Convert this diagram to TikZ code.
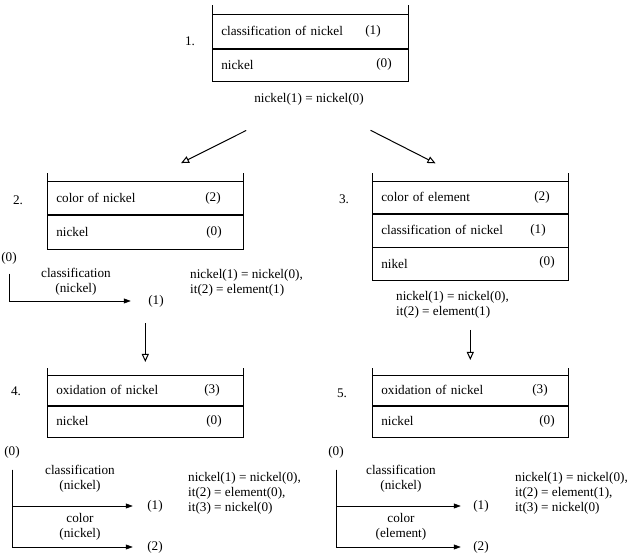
\documentclass[tikz,border=0pt]{standalone}
\usepackage{fontspec}
\setmainfont{Liberation Serif}
\usetikzlibrary{arrows.meta, positioning}

\tikzset{
  slot/.style={draw, line width=0.6pt, text width=178pt, inner xsep=9pt, inner ysep=0pt, minimum height=33pt, align=left},
  num/.style={inner sep=1pt},
  rel/.style={align=left, inner sep=1pt, anchor=west},
  brlabel/.style={align=center, inner sep=1pt},
  flow/.style={-{Triangle[open, length=8pt, width=7pt]}, line width=1pt},
  branch/.style={-{Triangle[length=7pt, width=5pt]}, line width=0.6pt},
}

\begin{document}
\begin{tikzpicture}[x=1pt, y=-1pt, font=\fontsize{13.2}{15}\selectfont]
  \useasboundingbox (0,0) rectangle (633,553);

  % frame 1
  \node[slot, anchor=north west, minimum height=34pt] (b1cls) at (212,14) {classification of nickel};
  \node[slot, below=0pt of b1cls, minimum height=32pt] (b1ni) {nickel};
  \draw[line width=0.6pt] (b1cls.north west) -- ++(0,-9) (b1cls.north east) -- ++(0,-9);
  \node[num] (b1n1) at (373,31) {(1)};
  \node[num] (b1n0) at (384,64) {(0)};
  \node (st1) at (190,41) {1.};
  \node (rel1) at (309,99) {nickel(1) = nickel(0)};

  % frame 2
  \node[slot, anchor=north west] (b2col) at (47,181) {color of nickel};
  \node[slot, below=0pt of b2col, minimum height=34pt] (b2ni) {nickel};
  \draw[line width=0.6pt] (b2col.north west) -- ++(0,-8) (b2col.north east) -- ++(0,-8);
  \node[num] (b2n2) at (213,198) {(2)};
  \node[num] (b2n0) at (214,232) {(0)};
  \node (st2) at (18,200) {2.};

  % frame 3
  \node[slot, anchor=north west, minimum height=32pt] (b3col) at (372,181) {color of element};
  \node[slot, below=0pt of b3col] (b3cls) {classification of nickel};
  \node[slot, below=0pt of b3cls] (b3ni) {nikel};
  \draw[line width=0.6pt] (b3col.north west) -- ++(0,-8) (b3col.north east) -- ++(0,-8);
  \node[num] (b3n2) at (542,197) {(2)};
  \node[num] (b3n1) at (538,230) {(1)};
  \node[num] (b3n0) at (547,262) {(0)};
  \node (st3) at (344,199) {3.};

  % frame 4
  \node[slot, anchor=north west, minimum height=30pt] (b4ox) at (47,375) {oxidation of nickel};
  \node[slot, below=0pt of b4ox, minimum height=31pt] (b4ni) {nickel};
  \draw[line width=0.6pt] (b4ox.north west) -- ++(0,-7) (b4ox.north east) -- ++(0,-7);
  \node[num] (b4n3) at (212,390) {(3)};
  \node[num] (b4n0) at (214,421) {(0)};
  \node (st4) at (16,391) {4.};

  % frame 5
  \node[slot, anchor=north west, minimum height=30pt] (b5ox) at (372,375) {oxidation of nickel};
  \node[slot, below=0pt of b5ox, minimum height=31pt] (b5ni) {nickel};
  \draw[line width=0.6pt] (b5ox.north west) -- ++(0,-7) (b5ox.north east) -- ++(0,-7);
  \node[num] (b5n3) at (540,390) {(3)};
  \node[num] (b5n0) at (547,421) {(0)};
  \node (st5) at (342,393) {5.};

  % relations
  \node[rel] (rel2) at (189,283) {nickel(1) = nickel(0),\\it(2) = element(1)};
  \node[rel] (rel3) at (395,305) {nickel(1) = nickel(0),\\it(2) = element(1)};
  \node[rel] (rel4) at (187,493) {nickel(1) = nickel(0),\\it(2) = element(0),\\it(3) = nickel(0)};
  \node[rel] (rel5) at (514,493) {nickel(1) = nickel(0),\\it(2) = element(1),\\it(3) = nickel(0)};

  % branch sketches
  \node (z2) at (9,258) {(0)};
  \node[brlabel] (cl2) at (76,282) {classification\\(nickel)};
  \node (p2) at (156,301) {(1)};
  \draw[branch, shorten <=6pt, shorten >=14pt] (z2) |- (p2);

  \node (z4) at (12,452) {(0)};
  \node[brlabel] (cl4) at (80,479) {classification\\(nickel)};
  \node[brlabel] (co4) at (80,527) {color\\(nickel)};
  \node (p41) at (155,506) {(1)};
  \node (p42) at (155,547) {(2)};
  \draw[branch, shorten <=8pt, shorten >=11pt] (z4) |- (p41);
  \draw[branch, shorten <=8pt, shorten >=11pt] (z4) |- (p42);

  \node (z5) at (336,452) {(0)};
  \node[brlabel] (cl5) at (401,479) {classification\\(nickel)};
  \node[brlabel] (co5) at (401,527) {color\\(element)};
  \node (p51) at (481,506) {(1)};
  \node (p52) at (481,547) {(2)};
  \draw[branch, shorten <=8pt, shorten >=9pt] (z5) |- (p51);
  \draw[branch, shorten <=8pt, shorten >=9pt] (z5) |- (p52);

  % flow
  \draw[flow, shorten <=49pt, shorten >=40pt] (rel1) -- (b2col.north);
  \draw[flow, shorten <=48pt, shorten >=39pt] (rel1) -- (b3col.north);
  \draw[flow, shorten <=74pt, shorten >=13pt] (b2ni.south) -- (b4ox.north);
  \draw[flow, shorten <=49pt, shorten >=15pt] (b3ni.south) -- (b5ox.north);
\end{tikzpicture}
\end{document}
